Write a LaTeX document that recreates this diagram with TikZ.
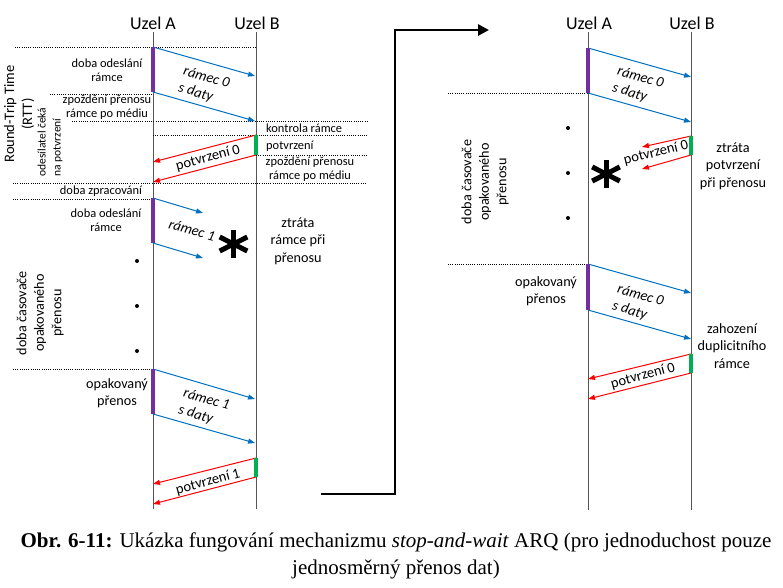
\documentclass[tikz,border=0pt]{standalone}
\usepackage{fontspec}
\setmainfont{Liberation Serif}
\newfontfamily\calibri{Carlito}
\usetikzlibrary{arrows.meta}
\definecolor{frameblue}{RGB}{0,112,192}
\definecolor{ackred}{RGB}{255,0,0}
\definecolor{sendpurple}{RGB}{112,48,160}
\definecolor{checkgreen}{RGB}{0,176,80}
\definecolor{lifegray}{RGB}{85,85,85}

\begin{document}
\begin{tikzpicture}[x=1pt,y=-1pt,
    lifeline/.style={lifegray,line width=0.9pt},
    frameline/.style={-{Triangle[length=7pt,width=5pt]},frameblue,line width=1pt},
    ackline/.style={-{Triangle[length=7pt,width=5pt]},ackred,line width=1pt},
    sendbar/.style={sendpurple,line width=3.5pt},
    checkbar/.style={checkgreen,line width=3.5pt},
    guide/.style={dash pattern=on 0.8pt off 1.4pt,line width=0.6pt},
    smalltext/.style={font=\calibri\fontsize{12.4}{14.5}\selectfont,align=center,inner sep=0pt},
    midtext/.style={font=\calibri\fontsize{14.2}{17.5}\selectfont,align=center,inner sep=0pt},
    sidetext/.style={midtext,rotate=90},
    framelabel/.style={font=\calibri\itshape\fontsize{14.5}{17.5}\selectfont,align=left,inner sep=0pt,rotate=-16},
    acklabel/.style={font=\calibri\fontsize{14.5}{17.5}\selectfont,inner sep=0pt,rotate=15},
    lossmark/.style={line width=5pt}
  ]
  \useasboundingbox (0,0) rectangle (783,587);

  % first case: lost frame
  \node[font=\calibri\fontsize{18}{20}\selectfont,anchor=base] (uzelA) at (153,29) {Uzel A};
  \node[font=\calibri\fontsize{18}{20}\selectfont,anchor=base] (uzelB) at (257,29) {Uzel B};
  \coordinate (aTop) at (153,32);
  \coordinate (aEnd) at (153,509);
  \coordinate (bTop) at (256,32);
  \coordinate (bEnd) at (256,509);
  \draw[lifeline] (aTop) -- (aEnd);
  \draw[lifeline] (bTop) -- (bEnd);

  \draw[guide] (15,47) -- (255,47);
  \draw[guide] (50,94) -- (153,94);
  \draw[guide] (72,121) -- (367,121);
  \draw[guide] (153,135) -- (367,135);
  \draw[guide] (256,155) -- (367,155);
  \draw[guide] (13,183) -- (367,183);
  \draw[guide] (13,199) -- (153,199);
  \draw[guide] (13,369) -- (153,369);

  \coordinate (a0s) at (153,47);
  \coordinate (a0e) at (153,92);
  \coordinate (b0s) at (255,76);
  \coordinate (b0e) at (255,121);
  \draw[frameline] (a0s) -- (b0s);
  \draw[frameline] (a0e) -- (b0e);
  \draw[sendbar] (a0s) -- (a0e);
  \node[framelabel] (frame0) at (204,86) {rámec 0\\s daty};

  \coordinate (k0s) at (256,135);
  \coordinate (k0e) at (256,155);
  \coordinate (r0s) at (153,162);
  \coordinate (r0e) at (153,182);
  \draw[ackline] (k0s) -- (r0s);
  \draw[ackline] (k0e) -- (r0e);
  \draw[checkbar] (k0s) -- (k0e);
  \node[acklabel] (ack0) at (208,158) {potvrzení 0};

  \coordinate (a1s) at (153,198);
  \coordinate (a1e) at (153,243);
  \coordinate (lost1s) at (203,213);
  \coordinate (lost1e) at (203,258);
  \draw[frameline] (a1s) -- (lost1s);
  \draw[frameline] (a1e) -- (lost1e);
  \draw[sendbar] (a1s) -- (a1e);
  \node[framelabel] (frame1) at (192,230) {rámec 1};
  \coordinate (lossA) at (233.5,244);
  \draw[lossmark] (lossA) ++(90:14) -- ++(270:28);
  \foreach \ang in {27,153}
    \draw[lossmark] (lossA) ++(\ang:15.5) -- ++(\ang+180:31);

  \coordinate (a2s) at (153,369);
  \coordinate (a2e) at (153,414);
  \coordinate (b2s) at (255,399);
  \coordinate (b2e) at (255,443);
  \draw[frameline] (a2s) -- (b2s);
  \draw[frameline] (a2e) -- (b2e);
  \draw[sendbar] (a2s) -- (a2e);
  \node[framelabel] (frame2) at (204,408) {rámec 1\\s daty};

  \coordinate (k1s) at (256,458);
  \coordinate (k1e) at (256,477);
  \coordinate (r1s) at (153,484);
  \coordinate (r1e) at (153,504);
  \draw[ackline] (k1s) -- (r1s);
  \draw[ackline] (k1e) -- (r1e);
  \draw[checkbar] (k1s) -- (k1e);
  \node[acklabel] (ack1) at (208,482) {potvrzení 1};

  \foreach \y in {261,306,351}
    \fill (137,\y) circle (2);

  \node[sidetext,font=\calibri\fontsize{14.5}{18}\selectfont] (rtt) at (19,114) {Round-Trip Time\\(RTT)};
  \node[sidetext,font=\calibri\fontsize{11.5}{15}\selectfont,align=left] (waitack) at (50,142) {odesílatel čeká\\na potvrzení};
  \node[sidetext] (timerA) at (40,313) {doba časovače\\opakovaného\\přenosu};
  \node[smalltext] (sendA0) at (107,70) {doba odeslání\\rámce};
  \node[smalltext] (delayA0) at (107,107) {zpoždění přenosu\\rámce po médiu};
  \node[smalltext,anchor=west] (checkB0) at (266,128) {kontrola rámce};
  \node[smalltext,anchor=west] (confB0) at (266,146) {potvrzení};
  \node[smalltext] (delayB0) at (310,169) {zpoždění přenosu\\rámce po médiu};
  \node[smalltext] (procA) at (101,191) {doba zpracování};
  \node[smalltext] (sendA1) at (106,220) {doba odeslání\\rámce};
  \node[midtext] (lostB1) at (298,241) {ztráta\\rámce při\\přenosu};
  \node[midtext] (resendA) at (117,393) {opakovaný\\přenos};

  % link between the two cases
  \coordinate (linkStart) at (321,494);
  \coordinate (linkTurn) at (395,30);
  \coordinate (linkEnd) at (489,30);
  \draw[line width=2.8pt,-{Triangle[length=11pt,width=11pt]}] (linkStart) -| (linkTurn) -- (linkEnd);

  % second case: lost acknowledgement
  \node[font=\calibri\fontsize{18}{20}\selectfont,anchor=base] (uzelA2) at (589,29) {Uzel A};
  \node[font=\calibri\fontsize{18}{20}\selectfont,anchor=base] (uzelB2) at (692,29) {Uzel B};
  \coordinate (a2Top) at (588,32);
  \coordinate (a2End) at (588,510);
  \coordinate (b2Top) at (691,32);
  \coordinate (b2End) at (691,510);
  \draw[lifeline] (a2Top) -- (a2End);
  \draw[lifeline] (b2Top) -- (b2End);

  \draw[guide] (448,93) -- (588,93);
  \draw[guide] (448,264) -- (588,264);

  \coordinate (c0s) at (588,48);
  \coordinate (c0e) at (588,93);
  \coordinate (d0s) at (691,77);
  \coordinate (d0e) at (691,122);
  \draw[frameline] (c0s) -- (d0s);
  \draw[frameline] (c0e) -- (d0e);
  \draw[sendbar] (c0s) -- (c0e);
  \node[framelabel] (frame3) at (638,86) {rámec 0\\s daty};

  \coordinate (m0s) at (691,136);
  \coordinate (m0e) at (691,155);
  \coordinate (lost2s) at (642,147);
  \coordinate (lost2e) at (642,169);
  \draw[ackline] (m0s) -- (lost2s);
  \draw[ackline] (m0e) -- (lost2e);
  \draw[checkbar] (m0s) -- (m0e);
  \node[acklabel,rotate=-1] (ack2) at (656,153) {potvrzení 0};
  \coordinate (lossB) at (606,174);
  \draw[lossmark] (lossB) ++(90:14) -- ++(270:28);
  \foreach \ang in {27,153}
    \draw[lossmark] (lossB) ++(\ang:15.5) -- ++(\ang+180:31);

  \coordinate (c1s) at (588,264);
  \coordinate (c1e) at (588,310);
  \coordinate (d1s) at (691,293);
  \coordinate (d1e) at (691,339);
  \draw[frameline] (c1s) -- (d1s);
  \draw[frameline] (c1e) -- (d1e);
  \draw[sendbar] (c1s) -- (c1e);
  \node[framelabel] (frame4) at (638,304) {rámec 0\\s daty};

  \coordinate (m1s) at (691,354);
  \coordinate (m1e) at (691,373);
  \coordinate (q1s) at (588,379);
  \coordinate (q1e) at (588,399);
  \draw[ackline] (m1s) -- (q1s);
  \draw[ackline] (m1e) -- (q1e);
  \draw[checkbar] (m1s) -- (m1e);
  \node[acklabel] (ack3) at (643,376) {potvrzení 0};

  \foreach \y in {128,173,218}
    \fill (568,\y) circle (2);

  \node[sidetext] (timerB) at (485,182) {doba časovače\\opakovaného\\přenosu};
  \node[midtext] (lostB2) at (733,166) {ztráta\\potvrzení\\při přenosu};
  \node[midtext] (resendB) at (546,291) {opakovaný\\přenos};
  \node[midtext] (dropB) at (732,346) {zahození\\duplicitního\\rámce};

  \node[font=\fontsize{21}{27}\selectfont,align=center,inner sep=0pt] (caption) at (396,556)
    {\textbf{Obr. 6-11:} Ukázka fungování mechanizmu \textit{stop-and-wait} ARQ (pro jednoduchost pouze\\jednosměrný přenos dat)};
\end{tikzpicture}
\end{document}
